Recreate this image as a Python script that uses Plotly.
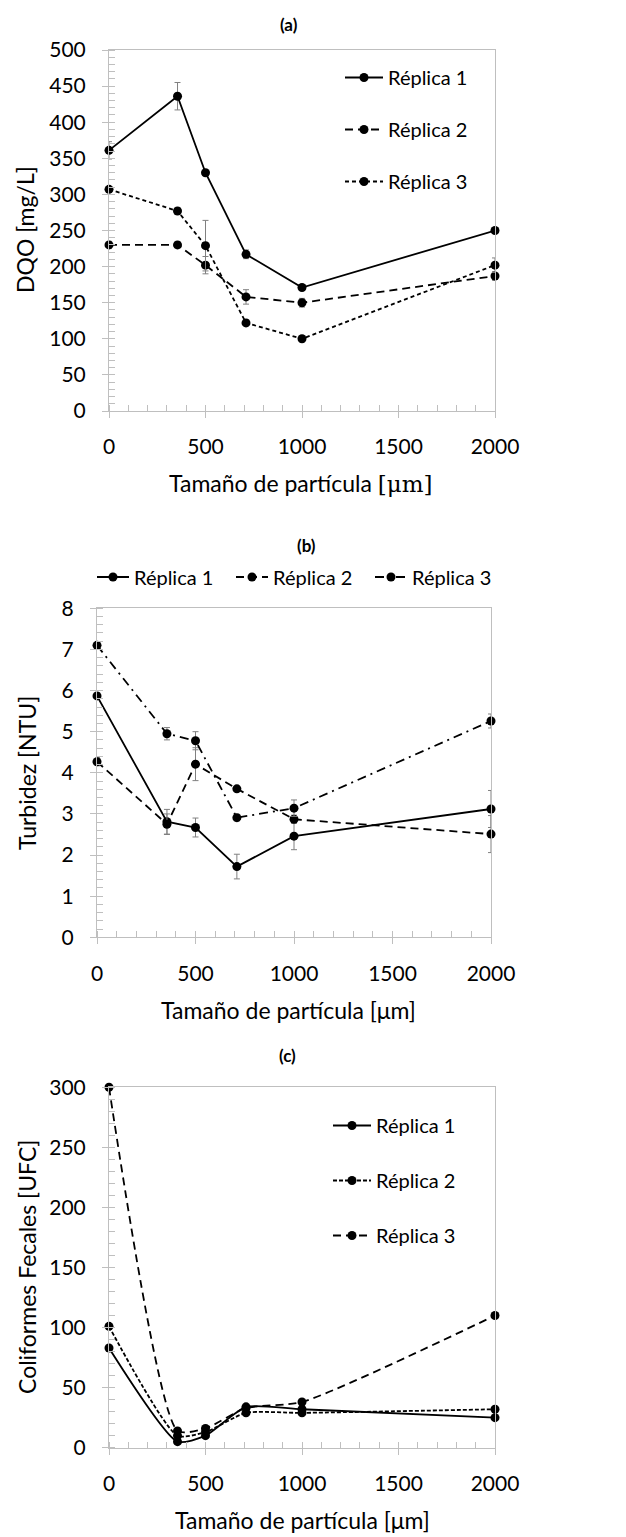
import plotly.graph_objects as go

W, H = 626, 1537
FONT = "Lato"

# ---------------- data ----------------
x_sizes = [0, 355, 500, 710, 1000, 2000]
series_names = ["Réplica 1", "Réplica 2", "Réplica 3"]

# (a) DQO [mg/L]
dqo_r1 = [361, 436, 330, 217, 171, 250]
dqo_r2 = [230, 230, 202, 158, 150, 187]
dqo_r3 = [307, 277, 229, 122, 100, 202]
dqo_r1_err = [12, 19, 3, 6, 3, 3]
dqo_r2_err = [5, 4, 12, 10, 6, 6]
dqo_r3_err = [4, 4, 35, 4, 4, 10]

# (b) Turbidez [NTU]
tur_r1 = [5.87, 2.81, 2.67, 1.72, 2.46, 3.12]
tur_r2 = [4.27, 2.75, 4.21, 3.61, 2.87, 2.51]
tur_r3 = [7.10, 4.95, 4.78, 2.91, 3.14, 5.26]
tur_r1_err = [0.08, 0.30, 0.23, 0.30, 0.33, 0.45]
tur_r2_err = [0.10, 0.25, 0.40, 0.05, 0.10, 0.45]
tur_r3_err = [0.05, 0.15, 0.22, 0.08, 0.20, 0.17]

# (c) Coliformes Fecales [UFC]
col_r1 = [83, 5, 10, 34, 32, 25]
col_r2 = [101, 10, 13, 29, 29, 32]
col_r3 = [300, 14, 16, 33, 38, 110]

fig = go.Figure()

def py(px):
    return 1 - px / H

def px_(p):
    return p / W

err_style = dict(type="data", color="#808080", thickness=1, width=3, visible=True)

panels = [
    ("", [dqo_r1, dqo_r2, dqo_r3], [dqo_r1_err, dqo_r2_err, dqo_r3_err],
     ["solid", "8px,5px", "4px,3px"], "legend", "linear", 9),
    ("2", [tur_r1, tur_r2, tur_r3], [tur_r1_err, tur_r2_err, tur_r3_err],
     ["solid", "8px,5px", "9px,5px,2px,5px"], "legend2", "linear", 9),
    ("3", [col_r1, col_r2, col_r3], [None, None, None],
     ["solid", "4px,2px", "8px,5px"], "legend3", "spline", 9),
]

for pi, (suf, ys, errs, dashes, leg, shape, msize) in enumerate(panels):
    for si in range(3):
        err = errs[si]
        line = dict(color="black", width=1.8, dash=dashes[si], shape=shape)
        if shape == "spline":
            line["smoothing"] = 0.6
        fig.add_trace(go.Scatter(
            x=x_sizes, y=ys[si], name=series_names[si],
            mode="lines+markers",
            line=line,
            marker=dict(color="black", size=msize),
            error_y=(dict(array=err, **err_style) if err is not None else None),
            xaxis="x" + suf, yaxis="y" + suf,
            legend=leg, legendgroup=f"{pi}_{si}",
            cliponaxis=False,
        ))

tick_font = dict(family=FONT, size=21, color="black")
axcol = "#bfbfbf"

def xaxis(domain, anchor):
    return dict(domain=domain, anchor=anchor, range=[0, 2000], tick0=0, dtick=500,
                showline=True, linecolor=axcol, linewidth=1, mirror=True,
                ticks="outside", ticklen=6, tickcolor=axcol,
                minor=dict(ticks="inside", ticklen=6, dtick=100, tickcolor=axcol),
                showgrid=False, zeroline=False, tickfont=tick_font,
                ticklabelstandoff=11, automargin=False)

def yaxis(domain, anchor, rng, dtick, mdtick):
    return dict(domain=domain, anchor=anchor, range=rng, tick0=0, dtick=dtick,
                showline=True, linecolor=axcol, linewidth=1, mirror=True,
                ticks="outside", ticklen=6, tickcolor=axcol,
                minor=dict(ticks="inside", ticklen=6, dtick=mdtick, tickcolor=axcol),
                showgrid=False, zeroline=False, tickfont=tick_font,
                ticklabelstandoff=12, automargin=False)

xa = [px_(109), px_(495)]
xb = [px_(97), px_(491)]
ya = [py(411), py(50)]
yb = [py(937.3), py(608.3)]
yc = [py(1447.7), py(1087.3)]

leg_font = dict(family=FONT, size=20, color="black")

fig.update_layout(
    template="none",
    width=W, height=H,
    margin=dict(l=0, r=0, t=0, b=0, autoexpand=False),
    paper_bgcolor="white", plot_bgcolor="white",
    font=dict(family=FONT, color="black"),
    xaxis=xaxis(xa, "y"), yaxis=yaxis(ya, "x", [0, 500], 50, 10),
    xaxis2=xaxis(xb, "y2"), yaxis2=yaxis(yb, "x2", [0, 8], 1, 0.2),
    xaxis3=xaxis(xa, "y3"), yaxis3=yaxis(yc, "x3", [0, 300], 50, 10),
    legend=dict(x=px_(340), y=py(58), xanchor="left", yanchor="top",
                orientation="v", font=leg_font, itemwidth=38,
                traceorder="grouped", tracegroupgap=23, bgcolor="rgba(0,0,0,0)"),
    legend2=dict(x=px_(92), y=py(577), xanchor="left", yanchor="middle",
                 orientation="h", font=leg_font, itemwidth=32,
                 entrywidth=92, entrywidthmode="pixels",
                 traceorder="grouped", bgcolor="rgba(0,0,0,0)"),
    legend3=dict(x=px_(328), y=py(1106), xanchor="left", yanchor="top",
                 orientation="v", font=leg_font, itemwidth=38,
                 traceorder="grouped", tracegroupgap=26, bgcolor="rgba(0,0,0,0)"),
)

title_font = dict(family=FONT, size=17, color="black")
axt_font = dict(family=FONT, size=23, color="black")

annots = [
    dict(text="<b>(a)</b>", x=px_(289), y=py(25), font=title_font),
    dict(text="<b>(b)</b>", x=px_(306), y=py(545), font=title_font),
    dict(text="<b>(c)</b>", x=px_(287), y=py(1055), font=title_font),
    dict(text="Tamaño de partícula <span style=\"font-family:'DejaVu Serif'\">[μm]</span>",
         x=px_(301), y=py(483), font=axt_font),
    dict(text="Tamaño de partícula [μm]", x=px_(288), y=py(1010), font=axt_font),
    dict(text="Tamaño de partícula [μm]", x=px_(302), y=py(1520), font=axt_font),
    dict(text="DQO [mg/L]", x=px_(25), y=py(230), font=axt_font, textangle=-90),
    dict(text="Turbidez [NTU]", x=px_(27), y=py(773), font=axt_font, textangle=-90),
    dict(text="Coliformes Fecales [UFC]", x=px_(27), y=py(1267), font=axt_font, textangle=-90),
]
for a in annots:
    fig.add_annotation(xref="paper", yref="paper", showarrow=False,
                       xanchor="center", yanchor="middle", **a)

fig.write_html("out.html")
